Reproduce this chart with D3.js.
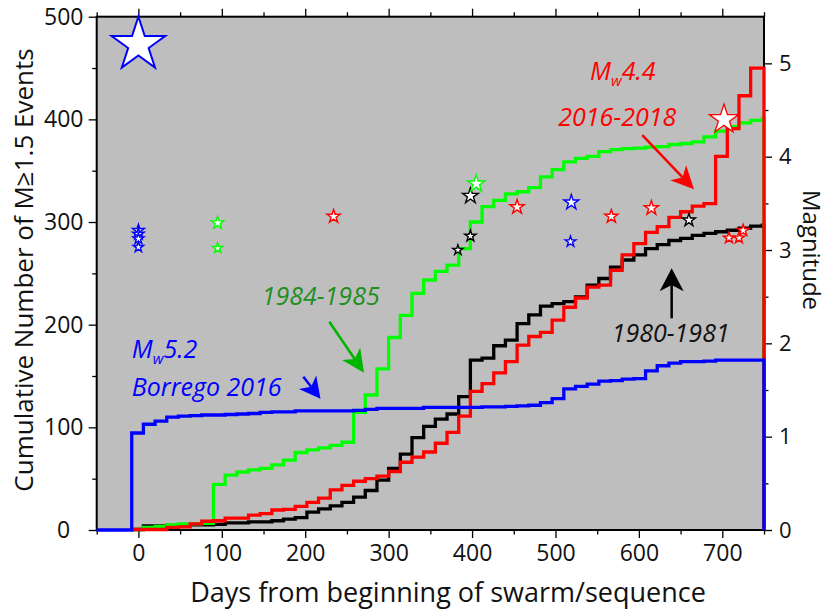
<!DOCTYPE html>
<html>
<head>
<meta charset="utf-8">
<script src="https://cdn.jsdelivr.net/npm/d3@7"></script>
<style>
  body { margin: 0; background: #fff; }
  svg text { font-family: "Open Sans", "DejaVu Sans", sans-serif; }
</style>
</head>
<body>
<svg id="chart" width="830" height="615"></svg>
<script>
// ---- Data -----------------------------------------------------------------
// Left edges (days) of the 14-day counting bins; the last bin runs to endDay.
const binStarts = [-8, 6, 20, 34, 48, 62, 76, 90, 104, 118, 132, 146, 160, 174, 188,
  202, 216, 230, 244, 258, 272, 286, 300, 314, 328, 342, 356, 370, 384, 398, 412,
  426, 440, 454, 468, 482, 496, 510, 524, 538, 552, 566, 580, 594, 608, 622, 636,
  650, 664, 678, 692, 706, 720, 734, 748];
const endDay = 750;
const borregoLeadInDay = -50;

// Cumulative number of M>=1.5 events at each bin
const counts1980 = [0.5, 4, 4, 4.5, 4.5, 5, 5, 5.5, 7, 7, 8, 8, 9, 10.5, 12, 17.5, 20.5,
  23.5, 27, 32, 38.5, 48.5, 60, 74, 90, 101, 108, 113, 130, 165.5, 167.5, 179.5, 185,
  201, 209.5, 218, 220.5, 222.5, 227, 238.5, 245, 256, 263, 268, 274, 278, 282, 284,
  287, 289, 290.5, 292, 294, 296, 297];
const counts1984 = [0.5, 2.5, 3.5, 5, 6, 6, 6.5, 44.5, 53.5, 56.5, 58.5, 60, 63.5, 68,
  75.5, 78, 80, 82.5, 85.5, 114.5, 131.5, 157, 187.5, 209, 230.5, 243.5, 252, 258, 274,
  300, 315, 321, 327.5, 329.5, 333.5, 344, 351, 358.5, 362, 364, 368.5, 370.5, 371.5,
  372, 373, 373.5, 375.5, 376.5, 378, 383, 388.5, 393, 396.5, 399, 401];
const counts2016 = [0.5, 0.5, 0.5, 2.5, 3, 6, 8.5, 9, 11.5, 11.5, 14.5, 16, 19.5, 20, 23,
  27, 31, 39, 43.5, 47.5, 50, 52.5, 57, 66, 71, 76, 84.5, 95, 111, 135, 142.5, 153,
  164, 180, 188.5, 192.5, 204.5, 217, 226, 236.5, 238.5, 253, 268, 279, 290, 295.5,
  304.5, 310, 315.5, 318, 364, 391, 423, 450, 450];
const countsBorrego = [94.5, 103, 106, 110, 111, 111.5, 112, 112, 112.5, 113, 113.5,
  114.5, 115, 115, 116, 116, 116, 116, 116, 116.5, 117.5, 118.5, 118.5, 118.5, 118.5,
  119.5, 119.5, 119.5, 119.5, 119.5, 120, 120, 120.5, 121, 121.5, 124, 128, 137.5, 140,
  142, 145, 145.5, 147, 147.5, 155, 160, 162.5, 164, 164, 164.5, 165.5, 165.5, 165.5,
  165.5, 165.5];

// Larger events (day, magnitude) for each sequence
const stars1980Days = [383, 398, 398, 660];
const stars1980Mags = [3.0, 3.15, 3.58, 3.32];
const stars1984Days = [95, 95, 405];
const stars1984Mags = [3.29, 3.02, 3.71];
const stars2016Days = [234, 454, 567, 615, 708, 720, 725];
const stars2016Mags = [3.36, 3.46, 3.36, 3.45, 3.13, 3.13, 3.21];
const starsBorregoDays = [0, 0, 0, 0, 519, 518];
const starsBorregoMags = [3.21, 3.17, 3.12, 3.03, 3.51, 3.09];
// Mainshocks
const mainshockDays = [0, 702];
const mainshockMags = [5.2, 4.4];

// Axis ticks
const dayTicks = [0, 100, 200, 300, 400, 500, 600, 700];
const dayMinorTicks = [-50, 50, 150, 250, 350, 450, 550, 650, 750];
const countTicks = [0, 100, 200, 300, 400, 500];
const countMinorTicks = [50, 150, 250, 350, 450];
const magTicks = [0, 1, 2, 3, 4, 5];
const magMinorTicks = [0.5, 1.5, 2.5, 3.5, 4.5];

// ---- Layout ---------------------------------------------------------------
const svg = d3.select("#chart");
const plot = { left: 96.7, top: 16.7, right: 764, bottom: 530 };

const x = d3.scaleLinear().domain([-50, 750]).range([plot.left, plot.right]);
const y = d3.scaleLinear().domain([0, 500]).range([plot.bottom, plot.top]);
const yMag = d3.scaleLinear().domain([0, 5.5]).range([plot.bottom, plot.top]);

const colors = { c1980: "#000000", c1984: "#00ff00", c2016: "#ff0000", borrego: "#0000ff" };

// Plot background
svg.append("rect")
  .attr("x", plot.left).attr("y", plot.top)
  .attr("width", plot.right - plot.left).attr("height", plot.bottom - plot.top)
  .attr("fill", "#bebebe");

// ---- Axes -----------------------------------------------------------------
const MAJOR = 8, MINOR = 4.5;
function styleAxis(g) {
  g.select(".domain").remove();
  g.selectAll(".tick line").attr("stroke", "#000").attr("stroke-width", 1.3);
  g.selectAll(".tick text").attr("font-size", 23).attr("fill", "#111");
}

// bottom
svg.append("g").attr("transform", `translate(0,${plot.bottom})`)
  .call(d3.axisBottom(x).tickValues(dayTicks).tickSize(MAJOR).tickFormat(d3.format("d")))
  .call(styleAxis)
  .call(g => g.selectAll(".tick text").attr("y", 30.5).attr("dy", 0));
svg.append("g").attr("transform", `translate(0,${plot.bottom})`)
  .call(d3.axisBottom(x).tickValues(dayMinorTicks).tickSize(MINOR).tickFormat(""))
  .call(styleAxis);
// top (ticks only)
svg.append("g").attr("transform", `translate(0,${plot.top})`)
  .call(d3.axisTop(x).tickValues(dayTicks).tickSize(MAJOR).tickFormat(""))
  .call(styleAxis);
svg.append("g").attr("transform", `translate(0,${plot.top})`)
  .call(d3.axisTop(x).tickValues(dayMinorTicks).tickSize(MINOR).tickFormat(""))
  .call(styleAxis);
// left
svg.append("g").attr("transform", `translate(${plot.left},0)`)
  .call(d3.axisLeft(y).tickValues(countTicks).tickSize(MAJOR).tickFormat(d3.format("d")))
  .call(styleAxis)
  .call(g => g.selectAll(".tick text").attr("text-anchor", "middle").attr("x", -33));
svg.append("g").attr("transform", `translate(${plot.left},0)`)
  .call(d3.axisLeft(y).tickValues(countMinorTicks).tickSize(MINOR).tickFormat(""))
  .call(styleAxis);
// right (magnitude)
svg.append("g").attr("transform", `translate(${plot.right},0)`)
  .call(d3.axisRight(yMag).tickValues(magTicks).tickSize(MAJOR).tickFormat(d3.format("d")))
  .call(styleAxis)
  .call(g => g.selectAll(".tick text").attr("x", 15).attr("font-size", 22));
svg.append("g").attr("transform", `translate(${plot.right},0)`)
  .call(d3.axisRight(yMag).tickValues(magMinorTicks).tickSize(MINOR).tickFormat(""))
  .call(styleAxis);

// Frame
svg.append("rect")
  .attr("x", plot.left).attr("y", plot.top)
  .attr("width", plot.right - plot.left).attr("height", plot.bottom - plot.top)
  .attr("fill", "none").attr("stroke", "#000").attr("stroke-width", 2);

// Axis titles
svg.append("text")
  .attr("transform", `translate(33,270) rotate(-90)`)
  .attr("text-anchor", "middle").attr("font-size", 26).attr("fill", "#111")
  .text("Cumulative Number of M\u22651.5 Events");
svg.append("text")
  .attr("x", 448).attr("y", 601.5)
  .attr("text-anchor", "middle").attr("font-size", 27).attr("fill", "#111")
  .text("Days from beginning of swarm/sequence");
svg.append("text")
  .attr("transform", `translate(803,250) rotate(90)`)
  .attr("text-anchor", "middle").attr("font-size", 24).attr("fill", "#111")
  .text("Magnitude");

// ---- Cumulative step curves ---------------------------------------------
const stepLine = d3.line()
  .x(d => x(d[0])).y(d => y(d[1]))
  .curve(d3.curveStepAfter);

function stepPoints(counts, leadInDay) {
  const pts = [];
  if (leadInDay !== undefined) pts.push([leadInDay, 0]);
  pts.push([binStarts[0], 0]);
  binStarts.forEach((d, i) => pts.push([d, counts[i]]));
  pts.push([endDay, counts[counts.length - 1]]);
  pts.push([endDay, 0]);
  return pts;
}

const seriesOrder = [
  { counts: counts1980, color: colors.c1980 },
  { counts: counts1984, color: colors.c1984 },
  { counts: counts2016, color: colors.c2016 },
  { counts: countsBorrego, color: colors.borrego, leadIn: borregoLeadInDay }
];
svg.append("g").selectAll("path")
  .data(seriesOrder)
  .join("path")
  .attr("d", s => stepLine(stepPoints(s.counts, s.leadIn)))
  .attr("fill", "none")
  .attr("stroke", s => s.color)
  .attr("stroke-width", 3.3)
  .attr("stroke-linejoin", "miter");

// ---- Event stars ----------------------------------------------------------
const STAR_KA = 0.8908130915292852;          // d3.symbolStar area constant
const starRadius = m => 5.3 * Math.pow(10, 0.33 * (m - 3));
const starPath = m => d3.symbol(d3.symbolStar, starRadius(m) ** 2 / STAR_KA)();

function drawStars(days, mags, color, strokeW) {
  svg.append("g").selectAll("path")
    .data(days.map((d, i) => ({ day: d, mag: mags[i] })))
    .join("path")
    .attr("transform", d => `translate(${x(d.day)},${yMag(d.mag)})`)
    .attr("d", d => starPath(d.mag))
    .attr("fill", "#fff")
    .attr("stroke", color)
    .attr("stroke-width", strokeW)
    .attr("stroke-linejoin", "miter");
}
drawStars(stars1980Days, stars1980Mags, colors.c1980, 1.4);
drawStars(stars1984Days, stars1984Mags, colors.c1984, 1.4);
drawStars(stars2016Days, stars2016Mags, colors.c2016, 1.4);
drawStars(starsBorregoDays, starsBorregoMags, colors.borrego, 1.4);
drawStars([mainshockDays[0]], [mainshockMags[0]], colors.borrego, 2);
drawStars([mainshockDays[1]], [mainshockMags[1]], colors.c2016, 1.3);

// ---- Annotations ----------------------------------------------------------
function arrow(tail, tip, color, headLen, headHalf, shaftW) {
  const x0 = x(tail[0]), y0 = y(tail[1]), x1 = x(tip[0]), y1 = y(tip[1]);
  const len = Math.hypot(x1 - x0, y1 - y0);
  const ux = (x1 - x0) / len, uy = (y1 - y0) / len;
  const nx = -uy, ny = ux;
  const bx = x1 - ux * headLen, by = y1 - uy * headLen;
  const notchX = x1 - ux * headLen * 0.72, notchY = y1 - uy * headLen * 0.72;
  svg.append("line")
    .attr("x1", x0).attr("y1", y0).attr("x2", notchX).attr("y2", notchY)
    .attr("stroke", color).attr("stroke-width", shaftW);
  svg.append("path")
    .attr("d", `M${x1},${y1}L${bx + nx * headHalf},${by + ny * headHalf}` +
      `L${notchX},${notchY}L${bx - nx * headHalf},${by - ny * headHalf}Z`)
    .attr("fill", color);
}

const annoFont = 25;
function label(day, count, color, parts) {
  const t = svg.append("text")
    .attr("x", x(day)).attr("y", y(count))
    .attr("font-size", annoFont).attr("font-style", "italic").attr("fill", color);
  parts.forEach(p => {
    const ts = t.append("tspan").text(p.text);
    if (p.sub) ts.attr("font-size", 15).attr("dy", 6);
    if (p.after) ts.attr("dy", -6);
  });
}

// Borrego 2016
label(-8, 167.5, "#0000ff", [{ text: "M" }, { text: "w", sub: true }, { text: "5.2", after: true }]);
label(-8, 130.5, "#0000ff", [{ text: "Borrego 2016" }]);
arrow([197.7, 149.3], [218.3, 127.9], "#0000ff", 21, 11, 2.5);

// 1984-1985
label(147.8, 219.2, "#1f8f1f", [{ text: "1984-1985" }]);
arrow([228.9, 202.9], [270.5, 153.2], "#00b400", 23, 11, 2.5);

// 2016-2018
label(541.4, 438.3, "#ff0000", [{ text: "M" }, { text: "w", sub: true }, { text: "4.4", after: true }]);
label(503.4, 393.5, "#ff0000", [{ text: "2016-2018" }]);
arrow([604.1, 384.7], [666.1, 331.8], "#ff0000", 23, 11, 2.5);

// 1980-1981
label(567.4, 183.4, "#111", [{ text: "1980-1981" }]);
arrow([639.3, 206.2], [639.3, 254.9], "#000", 23, 12, 2.5);
</script>
</body>
</html>
